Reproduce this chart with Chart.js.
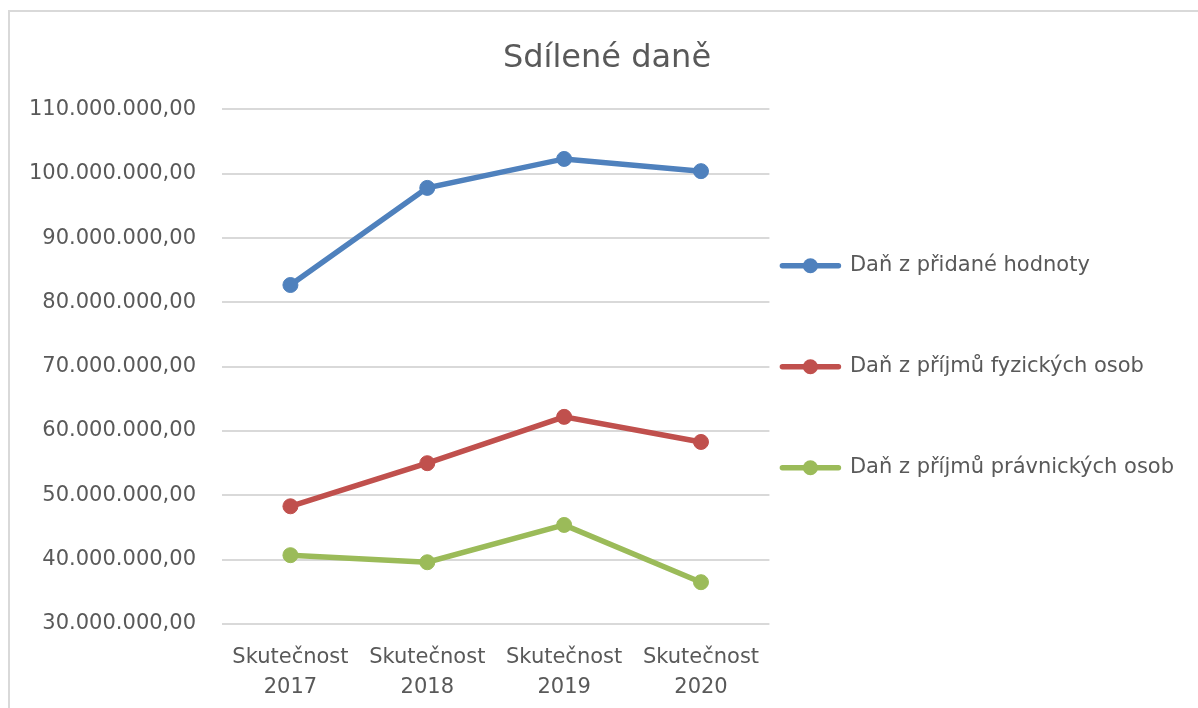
<!DOCTYPE html>
<html lang="cs">
<head>
<meta charset="utf-8">
<title>Sdílené daně</title>
<script src="https://cdn.jsdelivr.net/npm/chart.js@4.4.1/dist/chart.umd.min.js"></script>
<style>
  html, body { margin:0; padding:0; background:#fff; overflow:hidden; width:1198px; height:708px; }
  .frame { position:absolute; left:8px; top:10px; width:1300px; height:800px; border:2px solid #d9d9d9; }
  #chart { position:absolute; left:0; top:0; }
</style>
</head>
<body>
<div class="frame"></div>
<canvas id="chart" width="1198" height="708"></canvas>
<script>
const categories = [["Skutečnost","2017"],["Skutečnost","2018"],["Skutečnost","2019"],["Skutečnost","2020"]];
const seriesNames = ["Daň z přidané hodnoty","Daň z příjmů fyzických osob","Daň z příjmů právnických osob"];
const dph  = [82700000, 97800000, 102300000, 100400000];
const dpfo = [48300000, 55000000, 62200000, 58300000];
const dppo = [40700000, 39600000, 45400000, 36500000];
const yMin = 30000000, yMax = 110000000, yStep = 10000000;
const colors = ["#4f81bd","#c0504d","#9bbb59"];

function fmt(v){
  return Math.round(v).toString().replace(/\B(?=(\d{3})+(?!\d))/g,".") + ",00";
}

const textColor = "#595959";
const font = "'DejaVu Sans', 'Open Sans', sans-serif";

function ds(label, data, color){
  return {
    label, data,
    borderColor: color, backgroundColor: color,
    borderWidth: 5.5, tension: 0,
    pointRadius: 7.5, pointHoverRadius: 7.5,
    pointBackgroundColor: color, pointBorderColor: color, pointBorderWidth: 1
  };
}

// legend marker: line with a dot in the middle, like Excel
const legendMarkers = {
  id: "legendMarkers",
  afterDraw(chart){
    const lg = chart.legend;
    if(!lg || !lg.legendHitBoxes) return;
    const ctx = chart.ctx;
    const bw = lg.options.labels.boxWidth;
    lg.legendHitBoxes.forEach((hb, i) => {
      const c = colors[i];
      const cy = hb.top + hb.height/2;
      ctx.save();
      ctx.strokeStyle = c; ctx.fillStyle = c;
      ctx.lineWidth = 5.5; ctx.lineCap = "round";
      ctx.beginPath(); ctx.moveTo(hb.left + 1, cy); ctx.lineTo(hb.left + bw - 1, cy); ctx.stroke();
      ctx.beginPath(); ctx.arc(hb.left + bw/2, cy, 7.5, 0, Math.PI*2); ctx.fill();
      ctx.restore();
    });
  }
};

new Chart(document.getElementById("chart"), {
  type: "line",
  data: {
    labels: categories,
    datasets: [ds(seriesNames[0], dph, colors[0]), ds(seriesNames[1], dpfo, colors[1]), ds(seriesNames[2], dppo, colors[2])]
  },
  options: {
    responsive: false,
    animation: false,
    layout: { padding: { left: 30, right: 14, top: 0, bottom: 5 } },
    plugins: {
      title: {
        display: true, text: "Sdílené daně", color: textColor,
        font: { family: font, size: 32, weight: "normal", lineHeight: 1.2 },
        padding: { top: 39, bottom: 32 }
      },
      legend: {
        position: "right", align: "center", fullSize: false, maxWidth: 418,
        labels: {
          color: textColor, boxWidth: 58, boxHeight: 89, padding: 12,
          font: { family: font, size: 21 },
          generateLabels(chart){
            return Chart.defaults.plugins.legend.labels.generateLabels(chart).map(l => Object.assign(l, { fillStyle: "rgba(0,0,0,0)", strokeStyle: "rgba(0,0,0,0)", lineWidth: 0 }));
          }
        }
      },
      tooltip: { enabled: false }
    },
    scales: {
      x: {
        offset: true,
        grid: { display: false, drawTicks: false },
        border: { display: false },
        afterFit(s){ s.height = 79; },
        ticks: { color: textColor, padding: 19, maxRotation: 0, font: { family: font, size: 21, lineHeight: 1.43 } }
      },
      y: {
        min: yMin, max: yMax,
        grid: { color: "#d9d9d9", lineWidth: 2, drawTicks: false },
        border: { display: false },
        afterFit(s){ s.width = 192; },
        ticks: { stepSize: yStep, color: textColor, padding: 26, font: { family: font, size: 21 }, callback: v => fmt(v) }
      }
    }
  },
  plugins: [legendMarkers]
});
</script>
</body>
</html>
